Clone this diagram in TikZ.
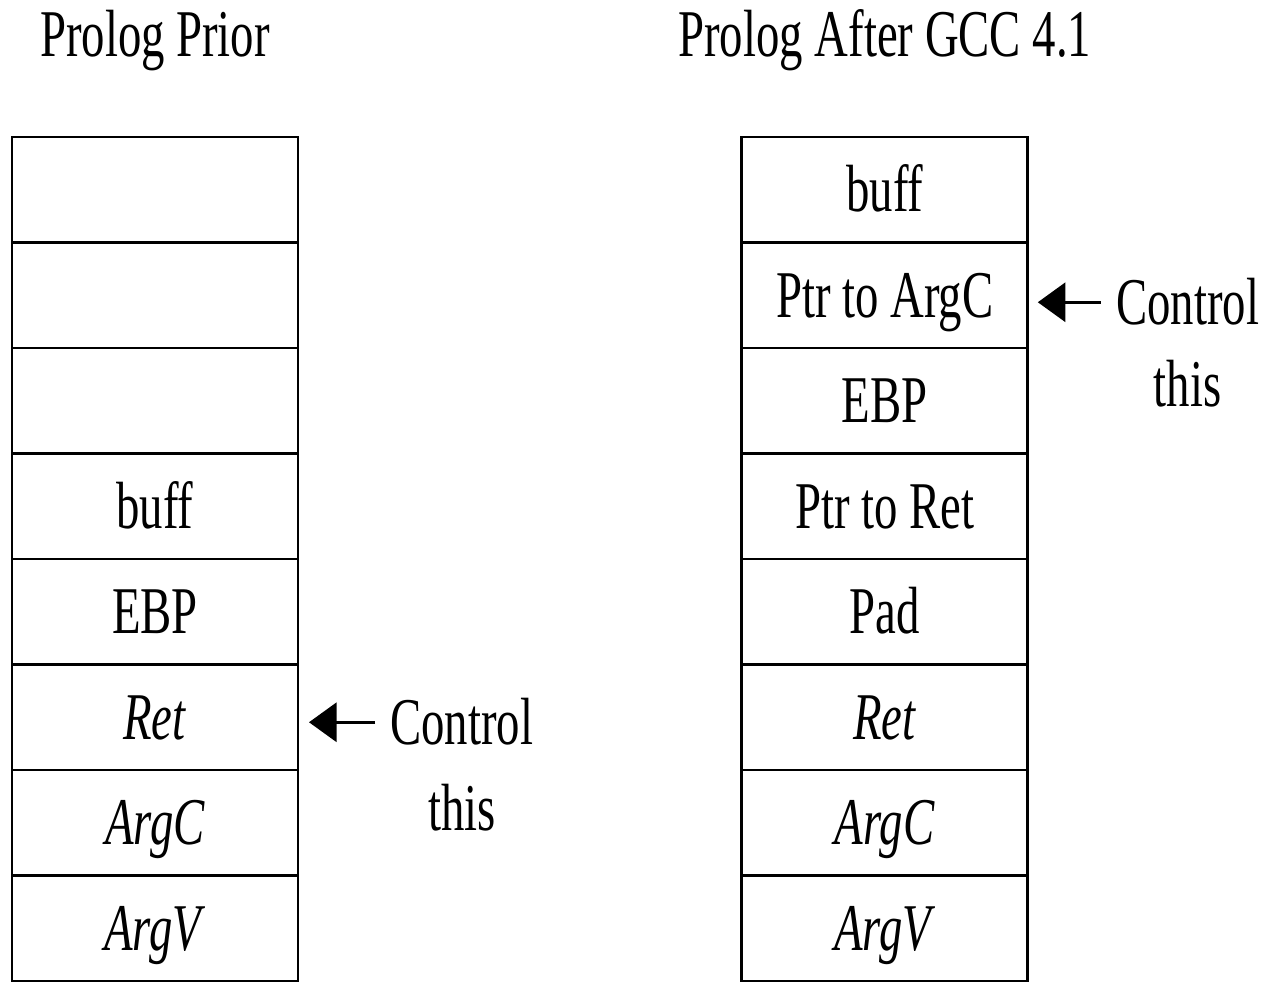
\documentclass[tikz,border=0pt]{standalone}
\usepackage{fontspec}
\setmainfont{Liberation Serif}[FakeStretch=0.7]
\usepackage{tikz}
\usetikzlibrary{matrix,positioning,arrows.meta}

\begin{document}
\begin{tikzpicture}[font=\fontsize{38}{44}\selectfont,
    stack/.style={matrix of nodes, inner sep=0pt, outer sep=0pt, row sep=-1.6pt,
                  nodes={draw, line width=1.6pt, minimum width=5.72cm, minimum height=2.11cm,
                         outer sep=0pt, inner sep=0pt, text height=26pt, text depth=1pt,
                         anchor=center},
                  nodes in empty cells},
    note/.style={inner sep=0pt, text height=26pt, text depth=1pt},
    ctrlarrow/.style={line width=1.7pt, -{Triangle[length=0.55cm, width=0.78cm]}}]
  \useasboundingbox (0,0) rectangle (25.4,-19.66);

  % stack before
  \matrix (prior) at (3.1,-11.18) [stack]
  {
    \\
    \\
    \\
    buff \\
    EBP \\
    \textit{Ret} \\
    \textit{ArgC} \\
    \textit{ArgV} \\
  };

  % stack after
  \matrix (after) [stack, right=8.82cm of prior]
  {
    buff \\
    Ptr to ArgC \\
    EBP \\
    Ptr to Ret \\
    Pad \\
    \textit{Ret} \\
    \textit{ArgC} \\
    \textit{ArgV} \\
  };

  \node (priortitle) [note, above=1.54cm of prior] {Prolog Prior};
  \node (aftertitle) [note, above=1.54cm of after] {Prolog After GCC 4.1};

  \node (ctlA) [note, right=1.84cm of prior-6-1, yshift=-0.1cm] {Control};
  \node (thisA) [note, below=0.76cm of ctlA] {this};
  \draw[ctrlarrow, shorten <=0.3cm, shorten >=0.22cm] (ctlA.west) -- (ctlA.west -| prior-6-1.east);

  \node (ctlB) [note, right=1.76cm of after-2-1, yshift=-0.14cm] {Control};
  \node (thisB) [note, below=0.68cm of ctlB] {this};
  \draw[ctrlarrow, shorten <=0.3cm, shorten >=0.2cm] (ctlB.west) -- (ctlB.west -| after-2-1.east);
\end{tikzpicture}
\end{document}
